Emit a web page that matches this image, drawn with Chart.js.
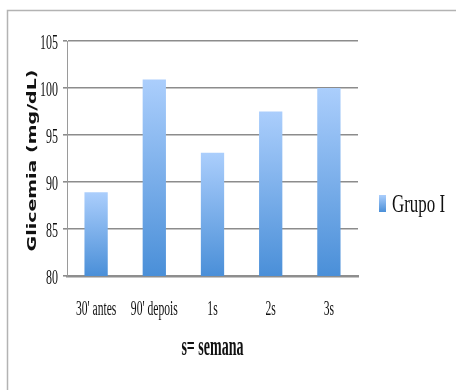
<!DOCTYPE html>
<html>
<head>
<meta charset="utf-8">
<script src="https://cdn.jsdelivr.net/npm/chart.js@4/dist/chart.umd.min.js"></script>
<style>
  html, body { margin: 0; padding: 0; background: #fff; }
  #wrap { width: 456px; height: 390px; position: relative; }
</style>
</head>
<body>
<div id="wrap"><canvas id="c" width="456" height="390"></canvas></div>
<script>
// Glicemia por momento de coleta
const categories = ["30' antes", "90' depois", "1s", "2s", "3s"];
const grupoI = [88.9, 100.9, 93.1, 97.5, 100.0];
const seriesName = "Grupo I";
const yTicks = [80, 85, 90, 95, 100, 105];
const yTitle = "Glicemia (mg/dL)";
const xTitle = "s= semana";

// Per-bar vertical gradient, light on top, deeper blue at the base
function barFill(ctx) {
  const chart = ctx.chart;
  const y = chart.scales.y;
  if (!y || !ctx.parsed) return '#6fa6e6';
  const top = y.getPixelForValue(ctx.parsed.y);
  const bottom = y.getPixelForValue(y.min);
  if (!isFinite(top) || !isFinite(bottom) || top === bottom) return '#6fa6e6';
  const g = chart.ctx.createLinearGradient(0, top, 0, bottom);
  g.addColorStop(0, '#abcefc');
  g.addColorStop(1, '#4a8fd8');
  return g;
}

// Condensed text helper: squeeze glyphs horizontally
function squeezedText(ctx, text, x, y, sx, align) {
  ctx.save();
  ctx.translate(x, y);
  ctx.scale(sx, 1);
  ctx.textAlign = align;
  ctx.fillText(text, 0, 0);
  ctx.restore();
}

const textPlugin = {
  id: 'condensedText',
  beforeDraw(chart) {
    const ctx = chart.ctx;
    ctx.save();
    ctx.fillStyle = '#fff';
    ctx.fillRect(0, 0, chart.width, chart.height);
    // outer frame
    ctx.strokeStyle = '#b3b3b3';
    ctx.lineWidth = 1.5;
    ctx.beginPath();
    ctx.moveTo(7.5, chart.height);
    ctx.lineTo(7.5, 10.5);
    ctx.lineTo(chart.width, 10.5);
    ctx.stroke();
    ctx.restore();
  },
  afterDraw(chart) {
    const ctx = chart.ctx;
    const xs = chart.scales.x, ys = chart.scales.y;
    const area = chart.chartArea;
    ctx.save();
    ctx.fillStyle = '#111';
    ctx.textBaseline = 'middle';

    // y tick labels
    ctx.font = '20px "Liberation Serif"';
    yTicks.forEach(v => {
      squeezedText(ctx, String(v), area.left - 9, ys.getPixelForValue(v) + 3, 0.6, 'right');
    });

    // x tick labels
    categories.forEach((c, i) => {
      squeezedText(ctx, c, xs.getPixelForValue(i), area.bottom + 34, 0.58, 'center');
    });

    // x title
    ctx.font = 'bold 27px "Liberation Serif"';
    squeezedText(ctx, xTitle, (area.left + area.right) / 2, area.bottom + 72, 0.52, 'center');

    // y title (rotated, glyph height squeezed)
    ctx.font = 'bold 19px "DejaVu Sans"';
    ctx.save();
    ctx.translate(33, (area.top + area.bottom) / 2 + 2);
    ctx.scale(0.63, 1);
    ctx.rotate(-Math.PI / 2);
    ctx.textAlign = 'center';
    ctx.fillText(yTitle, 0, 0);
    ctx.restore();

    // legend
    const lg = ctx.createLinearGradient(0, 195, 0, 212);
    lg.addColorStop(0, '#abcefc');
    lg.addColorStop(1, '#4a8fd8');
    ctx.fillStyle = lg;
    ctx.fillRect(379, 195, 7, 17);
    ctx.fillStyle = '#111';
    ctx.font = '26px "Liberation Serif"';
    squeezedText(ctx, seriesName, 392, 205, 0.65, 'left');
    ctx.restore();
  }
};

new Chart(document.getElementById('c'), {
  type: 'bar',
  data: {
    labels: categories,
    datasets: [{
      label: seriesName,
      data: grupoI,
      backgroundColor: barFill,
      borderWidth: 0,
      categoryPercentage: 1.0,
      barPercentage: 0.4
    }]
  },
  options: {
    responsive: false,
    animation: false,
    events: [],
    layout: { padding: { left: 63, right: 98, top: 41, bottom: 114 } },
    plugins: { legend: { display: false }, tooltip: { enabled: false } },
    scales: {
      x: {
        grid: { display: false, drawTicks: false },
        border: { display: true, color: '#8e8e8e', width: 2.5 },
        ticks: { display: false }
      },
      y: {
        min: 80, max: 105,
        afterBuildTicks(scale) { scale.ticks = yTicks.map(v => ({ value: v })); },
        grid: { color: '#8c8c8c', lineWidth: 1.6, drawTicks: true, tickLength: 4 },
        border: { display: true, color: '#9a9a9a', width: 1 },
        ticks: { display: false }
      }
    }
  },
  plugins: [textPlugin]
});
</script>
</body>
</html>
